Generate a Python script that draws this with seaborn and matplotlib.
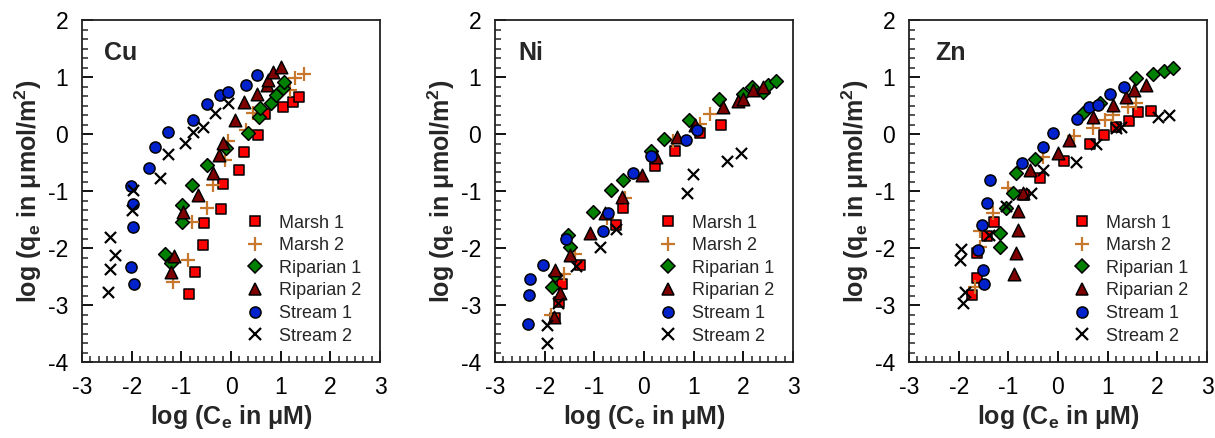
import numpy as np
import pandas as pd
import matplotlib
matplotlib.use("Agg")
import matplotlib.pyplot as plt
from matplotlib.ticker import MultipleLocator
from matplotlib.lines import Line2D
import seaborn as sns

# ---------------- data ----------------
series_names = ["Marsh 1", "Marsh 2", "Riparian 1", "Riparian 2", "Stream 1", "Stream 2"]
panel_names = ["Cu", "Ni", "Zn"]

# Cu
cu_marsh1_x = [-0.85, -0.73, -0.56, -0.54, -0.20, -0.16, 0.17, 0.27, 0.55, 0.68, 1.05, 1.24, 1.37]
cu_marsh1_y = [-2.81, -2.42, -1.94, -1.57, -1.32, -0.87, -0.64, -0.31, -0.02, 0.35, 0.47, 0.57, 0.65]
cu_marsh2_x = [-1.16, -0.86, -0.79, -0.49, -0.36, -0.12, -0.06, 0.31, 0.45, 1.19, 1.29, 1.47]
cu_marsh2_y = [-2.59, -2.21, -1.54, -1.30, -0.89, -0.46, -0.13, 0.07, 0.36, 0.77, 0.99, 1.05]
cu_rip1_x = [-1.33, -1.20, -0.98, -0.98, -0.79, -0.49, -0.11, 0.35, 0.56, 0.58, 0.80, 0.90, 1.05, 1.06]
cu_rip1_y = [-2.11, -2.27, -1.54, -1.25, -0.89, -0.54, -0.25, 0.01, 0.30, 0.45, 0.54, 0.68, 0.80, 0.92]
cu_rip2_x = [-1.20, -1.14, -0.96, -0.66, -0.36, -0.24, -0.17, 0.08, 0.27, 0.52, 0.72, 0.75, 0.85, 1.00]
cu_rip2_y = [-2.42, -2.14, -1.36, -1.07, -0.69, -0.37, -0.15, 0.25, 0.57, 0.71, 0.86, 0.95, 1.09, 1.18]
cu_str1_x = [-1.95, -2.02, -1.97, -1.97, -2.02, -1.65, -1.53, -1.26, -0.76, -0.49, -0.22, -0.07, 0.31, 0.52]
cu_str1_y = [-2.63, -2.34, -1.64, -1.23, -0.91, -0.60, -0.22, 0.04, 0.25, 0.52, 0.68, 0.74, 0.86, 1.03]
cu_str2_x = [-2.47, -2.44, -2.34, -2.44, -2.00, -1.97, -1.43, -1.26, -0.93, -0.76, -0.56, -0.32, -0.06]
cu_str2_y = [-2.78, -2.37, -2.12, -1.80, -1.33, -0.98, -0.78, -0.35, -0.15, 0.04, 0.13, 0.36, 0.54]

# Ni
ni_marsh1_x = [-1.79, -1.71, -1.66, -1.29, -0.57, -0.42, 0.22, 0.62, 1.12, 1.56]
ni_marsh1_y = [-3.23, -2.94, -2.63, -2.29, -1.60, -1.30, -0.57, -0.29, 0.01, 0.16]
ni_marsh2_x = [-1.88, -1.62, -1.39, -0.75, -0.38, 0.59, 1.12, 1.33]
ni_marsh2_y = [-3.18, -2.46, -2.11, -1.48, -1.13, -0.13, 0.18, 0.35]
ni_rip1_x = [-1.86, -1.79, -1.53, -1.49, -1.02, -0.67, -0.43, 0.14, 0.41, 0.91, 1.51, 2.00, 2.17, 2.40, 2.50, 2.65]
ni_rip1_y = [-2.68, -2.47, -1.77, -1.98, -1.36, -0.98, -0.81, -0.29, -0.08, 0.25, 0.61, 0.70, 0.82, 0.74, 0.86, 0.93]
ni_rip2_x = [-1.81, -1.69, -1.79, -1.49, -1.09, -0.79, -0.45, -0.05, 0.25, 0.66, 1.02, 1.59, 1.90, 2.00, 2.20, 2.40]
ni_rip2_y = [-3.21, -2.79, -2.39, -2.12, -1.74, -1.39, -1.10, -0.72, -0.40, -0.05, 0.16, 0.48, 0.58, 0.61, 0.78, 0.82]
ni_str1_x = [-2.34, -2.32, -2.30, -2.03, -1.57, -0.82, -0.72, -0.23, 0.15, 0.84, 1.07]
ni_str1_y = [-3.33, -2.82, -2.54, -2.30, -1.84, -1.70, -1.39, -0.69, -0.39, -0.11, 0.07]
ni_str2_x = [-1.96, -1.96, -1.73, -1.37, -0.89, -0.57, 0.86, 0.99, 1.67, 1.96]
ni_str2_y = [-3.67, -3.35, -2.97, -2.32, -1.98, -1.67, -1.03, -0.70, -0.47, -0.34]

# Zn
zn_marsh1_x = [-1.74, -1.64, -1.64, -1.43, -1.28, -0.69, -0.37, 0.13, 0.65, 0.92, 1.17, 1.43, 1.61, 1.88]
zn_marsh1_y = [-2.82, -2.52, -2.09, -1.79, -1.54, -1.07, -0.78, -0.47, -0.18, -0.02, 0.12, 0.23, 0.38, 0.41]
zn_marsh2_x = [-1.68, -1.58, -1.58, -1.31, -1.01, -0.30, 0.33, 0.70, 0.94, 1.10, 1.41, 1.58]
zn_marsh2_y = [-2.68, -1.98, -1.71, -1.39, -0.95, -0.40, -0.04, 0.10, 0.25, 0.33, 0.47, 0.54]
zn_rip1_x = [-1.16, -1.16, -1.04, -0.91, -0.85, -0.47, 0.50, 0.84, 1.58, 1.91, 2.14, 2.31]
zn_rip1_y = [-1.99, -1.73, -1.29, -1.04, -0.68, -0.44, 0.36, 0.55, 0.99, 1.05, 1.11, 1.15]
zn_rip2_x = [-0.89, -0.85, -0.81, -0.81, -0.71, -0.57, 0.00, 0.23, 0.70, 1.10, 1.36, 1.54, 1.78]
zn_rip2_y = [-2.46, -2.08, -1.68, -1.35, -1.03, -0.63, -0.33, -0.11, 0.29, 0.51, 0.65, 0.78, 0.86]
zn_str1_x = [-1.48, -1.51, -1.62, -1.54, -1.43, -1.36, -0.72, -0.30, -0.11, 0.39, 0.62, 0.80, 1.04, 1.32]
zn_str1_y = [-2.63, -2.39, -2.04, -1.60, -1.21, -0.81, -0.51, -0.23, 0.01, 0.26, 0.47, 0.51, 0.70, 0.83]
zn_str2_x = [-1.91, -1.88, -1.98, -1.95, -1.38, -1.04, -0.54, -0.30, 0.37, 0.76, 1.17, 1.27, 2.01, 2.23]
zn_str2_y = [-2.96, -2.77, -2.21, -2.01, -1.77, -1.27, -1.04, -0.64, -0.49, -0.18, 0.10, 0.12, 0.30, 0.33]

x_ticks = [-3, -2, -1, 0, 1, 2, 3]
y_ticks = [-4, -3, -2, -1, 0, 1, 2]

panels = {
    "Cu": [(cu_marsh1_x, cu_marsh1_y), (cu_marsh2_x, cu_marsh2_y), (cu_rip1_x, cu_rip1_y),
           (cu_rip2_x, cu_rip2_y), (cu_str1_x, cu_str1_y), (cu_str2_x, cu_str2_y)],
    "Ni": [(ni_marsh1_x, ni_marsh1_y), (ni_marsh2_x, ni_marsh2_y), (ni_rip1_x, ni_rip1_y),
           (ni_rip2_x, ni_rip2_y), (ni_str1_x, ni_str1_y), (ni_str2_x, ni_str2_y)],
    "Zn": [(zn_marsh1_x, zn_marsh1_y), (zn_marsh2_x, zn_marsh2_y), (zn_rip1_x, zn_rip1_y),
           (zn_rip2_x, zn_rip2_y), (zn_str1_x, zn_str1_y), (zn_str2_x, zn_str2_y)],
}

# ---------------- style ----------------
sns.set_style("ticks")
plt.rcParams["font.family"] = ["Liberation Sans", "DejaVu Sans"]
plt.rcParams["mathtext.fontset"] = "custom"
plt.rcParams["mathtext.rm"] = "Liberation Sans"
plt.rcParams["mathtext.bf"] = "Liberation Sans:bold"
plt.rcParams["mathtext.default"] = "bf"

styles = {
    "Marsh 1":    dict(marker="s", color="#ff0000", size=7.0, filled=True),
    "Marsh 2":    dict(marker="+", color="#c8782d", size=9.5, filled=False),
    "Riparian 1": dict(marker="D", color="#008000", size=7.0, filled=True),
    "Riparian 2": dict(marker="^", color="#7f0000", size=9.0, filled=True),
    "Stream 1":   dict(marker="o", color="#0022cc", size=8.0, filled=True),
    "Stream 2":   dict(marker="x", color="#000000", size=8.0, filled=False),
}

fig = plt.figure(figsize=(12.15, 4.38), dpi=100)
lefts = [82 / 1215, 495 / 1215, 909 / 1215]
ax_w = 298 / 1215
ax_b = (438 - 362) / 438
ax_h = 342 / 438
label_x = {"Cu": 0.075, "Ni": 0.077, "Zn": 0.088}

for left, pname in zip(lefts, panel_names):
    ax = fig.add_axes([left, ax_b, ax_w, ax_h])
    for sname, (xs, ys) in zip(series_names, panels[pname]):
        st = styles[sname]
        df = pd.DataFrame({"x": xs, "y": ys})
        if st["filled"]:
            sns.scatterplot(data=df, x="x", y="y", ax=ax, marker=st["marker"],
                            color=st["color"], s=st["size"] ** 2,
                            edgecolor="black", linewidth=1.1, zorder=3, legend=False)
        else:
            sns.scatterplot(data=df, x="x", y="y", ax=ax, marker=st["marker"],
                            color=st["color"], s=st["size"] ** 2,
                            linewidth=1.6, zorder=3, legend=False)
    ax.set_xlim(-3, 3)
    ax.set_ylim(-4, 2)
    ax.set_xticks(x_ticks)
    ax.set_yticks(y_ticks)
    ax.set_xticklabels([str(t) for t in x_ticks])
    ax.set_yticklabels([str(t) for t in y_ticks])
    ax.xaxis.set_minor_locator(MultipleLocator(1 / 6))
    ax.yaxis.set_minor_locator(MultipleLocator(1 / 6))
    ax.tick_params(which="major", direction="in", length=8, width=1.3,
                   labelsize=16.5, pad=10, top=False, right=False, colors="black")
    ax.tick_params(which="minor", direction="in", length=4.5, width=1.1,
                   top=False, right=False)
    for sp in ax.spines.values():
        sp.set_linewidth(1.3)
        sp.set_color("#222222")
    ax.set_xlabel("log (C$_{e}$ in μM)", fontsize=18, fontweight="bold", labelpad=3)
    ax.set_ylabel("log (q$_{e}$ in μmol/m$^{2}$)", fontsize=18, fontweight="bold", labelpad=3)
    ax.text(label_x[pname], 0.94, pname, transform=ax.transAxes, fontsize=18,
            fontweight="bold", va="top", ha="left")

    handles = []
    for sname in series_names:
        st = styles[sname]
        if st["filled"]:
            h = Line2D([], [], linestyle="none", marker=st["marker"], markersize=st["size"],
                       markerfacecolor=st["color"], markeredgecolor="black", markeredgewidth=1.1)
        else:
            h = Line2D([], [], linestyle="none", marker=st["marker"], markersize=st["size"],
                       color=st["color"], markeredgewidth=1.6)
        handles.append(h)
    ax.legend(handles, series_names, loc="lower left", bbox_to_anchor=(0.52, 0.03),
              frameon=False, fontsize=13, labelspacing=0.31, handletextpad=0.75,
              handlelength=1.2, borderaxespad=0)

fig.savefig("out.png", dpi=100)
